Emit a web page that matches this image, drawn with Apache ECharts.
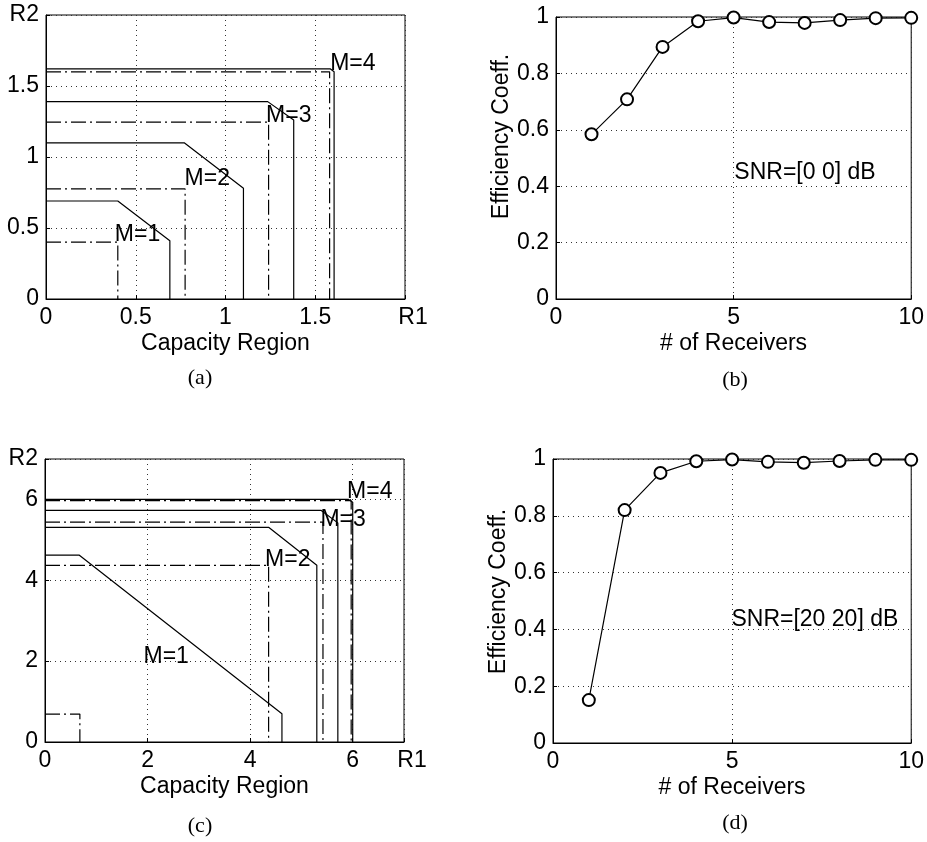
<!DOCTYPE html>
<html>
<head>
<meta charset="utf-8">
<script src="https://cdn.jsdelivr.net/npm/echarts@6/dist/echarts.min.js"></script>
<style>
html,body{margin:0;padding:0;background:#fff;}
#chart{width:927px;height:842px;}
</style>
</head>
<body>
<div id="chart"></div>
<script>
// ---------- Panel (a): capacity regions, SNR [0 0] dB ----------
const a_M1_solid = [[0,0.69],[0.40,0.69],[0.69,0.41],[0.69,0]];
const a_M1_dash  = [[0,0.40],[0.40,0.40],[0.40,0]];
const a_M2_solid = [[0,1.10],[0.77,1.10],[1.10,0.78],[1.10,0]];
const a_M2_dash  = [[0,0.775],[0.775,0.775],[0.775,0]];
const a_M3_solid = [[0,1.39],[1.235,1.39],[1.38,1.26],[1.38,0]];
const a_M3_dash  = [[0,1.245],[1.24,1.245],[1.24,0]];
const a_M4_solid = [[0,1.62],[1.585,1.62],[1.605,1.60],[1.605,0]];
const a_M4_dash  = [[0,1.60],[1.58,1.60],[1.58,0]];
const a_labels = ['M=1','M=2','M=3','M=4'];
const a_labelAt = [[0.383,0.45],[0.772,0.846],[1.226,1.294],[1.583,1.656]];

// ---------- Panel (c): capacity regions, SNR [20 20] dB ----------
const c_M1_solid = [[0,4.62],[0.67,4.62],[4.62,0.70],[4.62,0]];
const c_M1_dash  = [[0,0.69],[0.68,0.69],[0.68,0]];
const c_M2_solid = [[0,5.31],[4.36,5.31],[5.30,4.37],[5.30,0]];
const c_M2_dash  = [[0,4.37],[4.36,4.37],[4.36,0]];
const c_M3_solid = [[0,5.73],[5.38,5.73],[5.71,5.42],[5.71,0]];
const c_M3_dash  = [[0,5.44],[5.42,5.44],[5.42,0]];
const c_M4_solid = [[0,6.0],[5.92,6.0],[6.0,5.93],[6.0,0]];
const c_M4_dash  = [[0,5.97],[5.97,5.97],[5.97,0]];
const c_labels = ['M=1','M=2','M=3','M=4'];
const c_labelAt = [[1.92,2.10],[4.29,4.50],[5.37,5.49],[5.89,6.19]];

// ---------- Panels (b),(d): efficiency vs # of receivers ----------
const receivers = [1,2,3,4,5,6,7,8,9,10];
const effB = [0.584,0.708,0.894,0.985,0.998,0.982,0.979,0.989,0.996,0.997];
const effD = [0.151,0.820,0.951,0.992,0.998,0.990,0.987,0.993,0.997,0.997];
const snrB = 'SNR=[0 0] dB';
const snrD = 'SNR=[20 20] dB';
const snrBAt = [5.02,0.449];
const snrDAt = [4.98,0.433];

const captions = ['(a)','(b)','(c)','(d)'];

// ---------- styling ----------
const FONT = '"Liberation Sans", Arial, Helvetica, sans-serif';
const SERIF = '"Liberation Serif", "Times New Roman", serif';
const FS = 23;
const DASHDOT = [15,4,2,4];

function fmtNum(v){ return String(parseFloat(Number(v).toFixed(3))); }

function valueAxis(gridIndex, min, max, interval, rLabel, extra){
  const ax = {
    type:'value', gridIndex, min, max, interval,
    axisLine:{show:true, onZero:false, lineStyle:{color:'#000', width:1}},
    axisTick:{show:true, inside:true, length:4, lineStyle:{color:'#000'}},
    splitLine:{show:true, lineStyle:{color:'#333', width:1, type:[1,4]}},
    axisLabel:{
      color:'#000', fontSize:FS, fontFamily:FONT, margin:7,
      formatter:function(v){ return (rLabel && Math.abs(v-max)<1e-9) ? '{r|'+rLabel+'}' : fmtNum(v); },
      rich:{ r:{ color:'#000', fontSize:FS, fontFamily:FONT, padding: extra && extra.rPad ? extra.rPad : 0 } }
    }
  };
  if (extra && extra.name){
    ax.name = extra.name;
    ax.nameLocation = 'middle';
    ax.nameGap = extra.nameGap;
    ax.nameTextStyle = {color:'#000', fontSize:FS, fontFamily:FONT, padding: extra.namePad || 0};
  }
  return ax;
}

function capLine(data, xi, dashed){
  return {
    type:'line', xAxisIndex:xi, yAxisIndex:xi, data:data, symbol:'none',
    lineStyle:{color:'#000', width:1.2, type: dashed ? DASHDOT : 'solid'},
    silent:true, z:3
  };
}

function textSeries(xi, texts, positions){
  return {
    type:'scatter', xAxisIndex:xi, yAxisIndex:xi, symbol:'circle', symbolSize:0.1,
    itemStyle:{color:'#fff', opacity:1}, silent:true, z:5,
    data: texts.map((t,i)=>({name:t, value:positions[i]})),
    label:{show:true, position:'right', distance:0, formatter:'{b}', color:'#000',
           opacity:1, textBorderWidth:0, fontSize:FS, fontFamily:FONT}
  };
}

function effSeries(xi, vals){
  return {
    type:'line', xAxisIndex:xi, yAxisIndex:xi,
    data: receivers.map((r,i)=>[r, vals[i]]),
    symbol:'emptyCircle', symbolSize:12, showSymbol:true,
    lineStyle:{color:'#000', width:1.2},
    itemStyle:{color:'#000', borderColor:'#000', borderWidth:1.2},
    z:4
  };
}

const gridCommon = {show:true, borderColor:'#000', borderWidth:1, backgroundColor:'#fff', containLabel:false};

function caption(i, x, y){
  return {type:'text', x:x, y:y, style:{text:captions[i], align:'center', verticalAlign:'middle', fontSize:22, fontFamily:SERIF, fill:'#000'}};
}

const option = {
  animation:false,
  backgroundColor:'#fff',
  grid:[
    Object.assign({left:46, top:15, width:359, height:284}, gridCommon),
    Object.assign({left:556, top:17, width:357, height:282}, gridCommon),
    Object.assign({left:45, top:459, width:359, height:283}, gridCommon),
    Object.assign({left:553, top:459, width:359, height:284}, gridCommon)
  ],
  xAxis:[
    valueAxis(0, 0, 2, 0.5, 'R1', {name:'Capacity Region', nameGap:33, rPad:[0,0,0,16]}),
    valueAxis(1, 0, 10, 5, null, {name:'# of Receivers', nameGap:33}),
    valueAxis(2, 0, 7, 2, 'R1', {name:'Capacity Region', nameGap:33, rPad:[0,0,0,16]}),
    valueAxis(3, 0, 10, 5, null, {name:'# of Receivers', nameGap:33})
  ],
  yAxis:[
    valueAxis(0, 0, 2, 0.5, 'R2'),
    valueAxis(1, 0, 1, 0.2, null, {name:'Efficiency Coeff.', nameGap:41, namePad:[0,0,0,43]}),
    valueAxis(2, 0, 7, 2, 'R2'),
    valueAxis(3, 0, 1, 0.2, null, {name:'Efficiency Coeff.', nameGap:41, namePad:[0,0,0,19]})
  ],
  series:[
    capLine(a_M1_solid,0,false), capLine(a_M1_dash,0,true),
    capLine(a_M2_solid,0,false), capLine(a_M2_dash,0,true),
    capLine(a_M3_solid,0,false), capLine(a_M3_dash,0,true),
    capLine(a_M4_solid,0,false), capLine(a_M4_dash,0,true),
    textSeries(0, a_labels, a_labelAt),
    effSeries(1, effB),
    textSeries(1, [snrB], [snrBAt]),
    capLine(c_M1_solid,2,false), capLine(c_M1_dash,2,true),
    capLine(c_M2_solid,2,false), capLine(c_M2_dash,2,true),
    capLine(c_M3_solid,2,false), capLine(c_M3_dash,2,true),
    capLine(c_M4_solid,2,false), capLine(c_M4_dash,2,true),
    textSeries(2, c_labels, c_labelAt),
    effSeries(3, effD),
    textSeries(3, [snrD], [snrDAt])
  ],
  graphic:[
    caption(0, 200, 378),
    caption(1, 735, 380),
    caption(2, 200, 826),
    caption(3, 735, 823)
  ]
};

const chart = echarts.init(document.getElementById('chart'), null, {renderer:'canvas'});
chart.setOption(option);
</script>
</body>
</html>
